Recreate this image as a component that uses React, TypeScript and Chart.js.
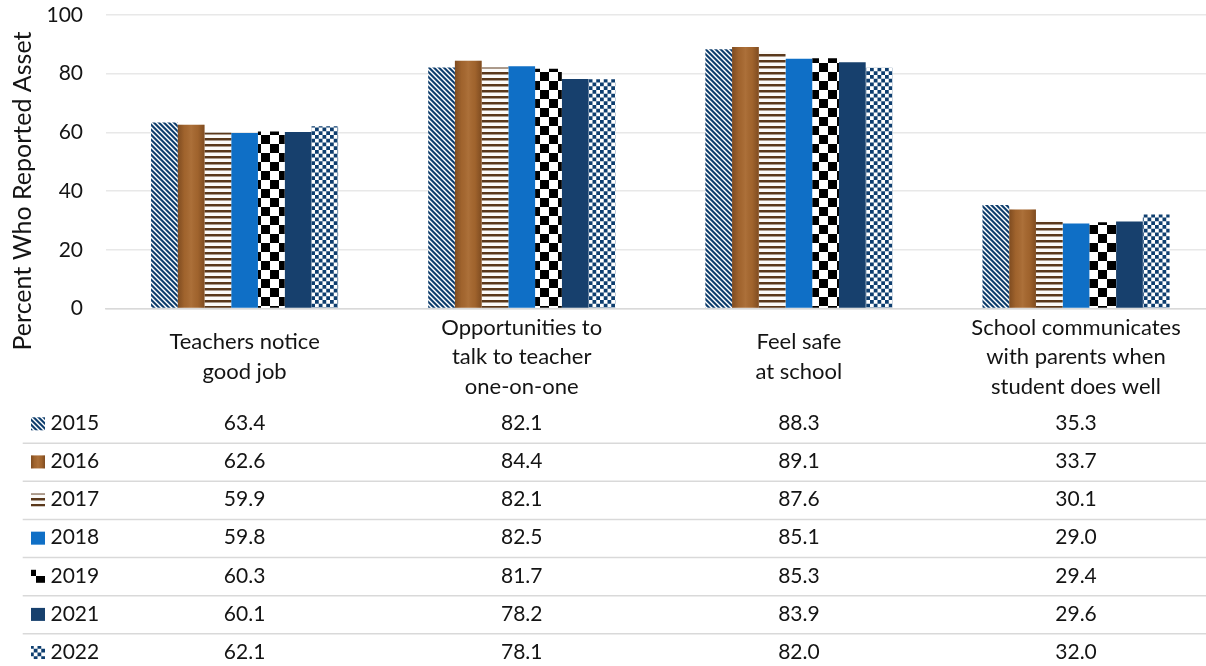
import React, { useEffect, useRef } from "react";
import { Chart, registerables } from "chart.js";

Chart.register(...registerables);

// ---------- data ----------
const categories: string[][] = [
  ["Teachers notice", "good job"],
  ["Opportunities to", "talk to teacher", "one-on-one"],
  ["Feel safe", "at school"],
  ["School communicates", "with parents when", "student does well"],
];
const years: string[] = ["2015", "2016", "2017", "2018", "2019", "2021", "2022"];
const v2015: number[] = [63.4, 82.1, 88.3, 35.3];
const v2016: number[] = [62.6, 84.4, 89.1, 33.7];
const v2017: number[] = [59.9, 82.1, 87.6, 30.1];
const v2018: number[] = [59.8, 82.5, 85.1, 29.0];
const v2019: number[] = [60.3, 81.7, 85.3, 29.4];
const v2021: number[] = [60.1, 78.2, 83.9, 29.6];
const v2022: number[] = [62.1, 78.1, 82.0, 32.0];
const seriesValues: number[][] = [v2015, v2016, v2017, v2018, v2019, v2021, v2022];
const yMin = 0;
const yMax = 100;
const yStep = 20;
const yTitle = "Percent Who Reported Asset";

// ---------- styles ----------
const W = 1216;
const H = 666;
const FONT = "Lato, 'Noto Sans', sans-serif";
const TEXT = "#141414";

function hexToRgb(h: string): number[] {
  const n = parseInt(h.slice(1), 16);
  return [(n >> 16) & 255, (n >> 8) & 255, n & 255];
}

function makeTile(
  size: number,
  inside: (x: number, y: number) => boolean,
  fg: string,
  bg: string
): HTMLCanvasElement {
  const c = document.createElement("canvas");
  c.width = size;
  c.height = size;
  const g = c.getContext("2d")!;
  const img = g.createImageData(size, size);
  const f = hexToRgb(fg);
  const b = hexToRgb(bg);
  const ss = 4;
  for (let py = 0; py < size; py++) {
    for (let px = 0; px < size; px++) {
      let cov = 0;
      for (let sy = 0; sy < ss; sy++) {
        for (let sx = 0; sx < ss; sx++) {
          if (inside(px + (sx + 0.5) / ss, py + (sy + 0.5) / ss)) cov++;
        }
      }
      const t = cov / (ss * ss);
      const i = (py * size + px) * 4;
      img.data[i] = Math.round(f[0] * t + b[0] * (1 - t));
      img.data[i + 1] = Math.round(f[1] * t + b[1] * (1 - t));
      img.data[i + 2] = Math.round(f[2] * t + b[2] * (1 - t));
      img.data[i + 3] = 255;
    }
  }
  g.putImageData(img, 0, 0);
  return c;
}

const mod = (a: number, m: number) => ((a % m) + m) % m;

export default function App() {
  const ref = useRef<HTMLCanvasElement | null>(null);

  useEffect(() => {
    const canvas = ref.current;
    if (!canvas) return;
    const ctx = canvas.getContext("2d")!;

    const pDiag = ctx.createPattern(
      makeTile(10, (x, y) => mod(x - y, 5) < 2.8, "#0F3E6D", "#FFFFFF"),
      "repeat"
    )!;
    const pHoriz = ctx.createPattern(
      makeTile(6, (x, y) => mod(y, 6) < 2.4, "#5A381B", "#FBFAF8"),
      "repeat"
    )!;
    const pBigChk = ctx.createPattern(
      makeTile(18, (x, y) => (Math.floor(x / 9) + Math.floor(y / 9)) % 2 === 0, "#000000", "#FFFFFF"),
      "repeat"
    )!;
    const pSmallChk = ctx.createPattern(
      makeTile(15, (x, y) => (Math.floor(x / 3.75) + Math.floor(y / 3.75)) % 2 === 0, "#0E3E6F", "#FFFFFF"),
      "repeat"
    )!;

    const fills: (string | CanvasPattern)[] = [
      pDiag,
      "#A5672F",
      pHoriz,
      "#0F6FC6",
      pBigChk,
      "#17406D",
      pSmallChk,
    ];

    const bevel = (c: CanvasRenderingContext2D, x0: number, x1: number, y0: number, y1: number) => {
      const gr = c.createLinearGradient(x0, 0, x1, 0);
      gr.addColorStop(0, "rgba(70,35,10,0.40)");
      gr.addColorStop(0.25, "rgba(70,35,10,0.05)");
      gr.addColorStop(0.5, "rgba(255,220,180,0.08)");
      gr.addColorStop(0.75, "rgba(70,35,10,0.05)");
      gr.addColorStop(1, "rgba(70,35,10,0.40)");
      c.fillStyle = gr;
      c.fillRect(x0, y0, x1 - x0, y1 - y0);
    };

    const bevelPlugin = {
      id: "bevel",
      afterDatasetsDraw(chart: any) {
        const meta = chart.getDatasetMeta(1);
        const c = chart.ctx as CanvasRenderingContext2D;
        c.save();
        meta.data.forEach((el: any) => {
          const w = el.width;
          bevel(c, el.x - w / 2, el.x + w / 2, el.y, el.base);
        });
        c.restore();
      },
    };

    const tablePlugin = {
      id: "dataTable",
      afterDraw(chart: any) {
        const c = chart.ctx as CanvasRenderingContext2D;
        const xs = chart.scales.x;
        const rowTop = 423.3;
        const pitch = 38.12;
        c.save();
        // row separators
        c.strokeStyle = "#D9D9D9";
        c.lineWidth = 1.5;
        for (let i = 0; i < years.length - 1; i++) {
          const y = rowTop + pitch / 2 + pitch * i + 0.8;
          c.beginPath();
          c.moveTo(22.7, y);
          c.lineTo(W, y);
          c.stroke();
        }
        c.font = `21px ${FONT}`;
        c.textBaseline = "middle";
        years.forEach((yr, r) => {
          const cy = rowTop + pitch * r;
          // key
          c.fillStyle = fills[r] as any;
          c.fillRect(31, cy - 6, 14, 13);
          if (r === 1) bevel(c, 31, 45, cy - 6, cy + 7);
          c.fillStyle = TEXT;
          c.textAlign = "left";
          c.fillText(yr, 50.5, cy);
          c.textAlign = "center";
          seriesValues[r].forEach((v, ci) => {
            c.fillText(v.toFixed(1), xs.getPixelForValue(ci), cy);
          });
        });
        // y axis title
        c.translate(22.5, 191);
        c.rotate(-Math.PI / 2);
        c.textAlign = "center";
        c.textBaseline = "middle";
        c.font = `25px ${FONT}`;
        c.fillStyle = TEXT;
        c.fillText(yTitle, 0, 0);
        c.restore();
      },
    };

    const chart = new Chart(canvas, {
      type: "bar",
      data: {
        labels: categories,
        datasets: years.map((yr, i) => ({
          label: yr,
          data: seriesValues[i],
          backgroundColor: fills[i] as any,
          borderWidth: 0,
          categoryPercentage: 0.675,
          barPercentage: 1.0,
        })),
      },
      options: {
        responsive: false,
        animation: false,
        devicePixelRatio: 1,
        layout: { padding: { top: 15, right: 1.4, left: 0, bottom: 0 } },
        plugins: {
          legend: { display: false },
          tooltip: { enabled: false },
          title: { display: false },
        },
        scales: {
          x: {
            grid: { display: false, drawTicks: false },
            border: { display: true, color: "#D9D9D9", width: 1.5 },
            ticks: {
              font: { family: FONT, size: 22, lineHeight: 1.35 },
              color: TEXT,
              padding: 19,
              crossAlign: "center",
              maxRotation: 0,
              minRotation: 0,
              autoSkip: false,
            },
            afterFit: (s: any) => {
              s.height = 357.5;
            },
          },
          y: {
            min: yMin,
            max: yMax,
            ticks: {
              stepSize: yStep,
              padding: 0,
              font: { family: FONT, size: 21 },
              color: TEXT,
            },
            grid: {
              color: "#E8E8E8",
              lineWidth: 1.5,
              drawTicks: true,
              tickLength: 23,
              tickColor: "rgba(0,0,0,0)",
            },
            border: { display: false },
            afterFit: (s: any) => {
              s.width = 106;
            },
          },
        },
      } as any,
      plugins: [bevelPlugin, tablePlugin],
    });

    return () => chart.destroy();
  }, []);

  return (
    <div
      style={{
        position: "fixed",
        left: 0,
        top: 0,
        width: 1206,
        height: 666,
        overflow: "hidden",
        background: "#FFFFFF",
      }}
    >
      <canvas ref={ref} width={W} height={H} style={{ display: "block" }} />
    </div>
  );
}
